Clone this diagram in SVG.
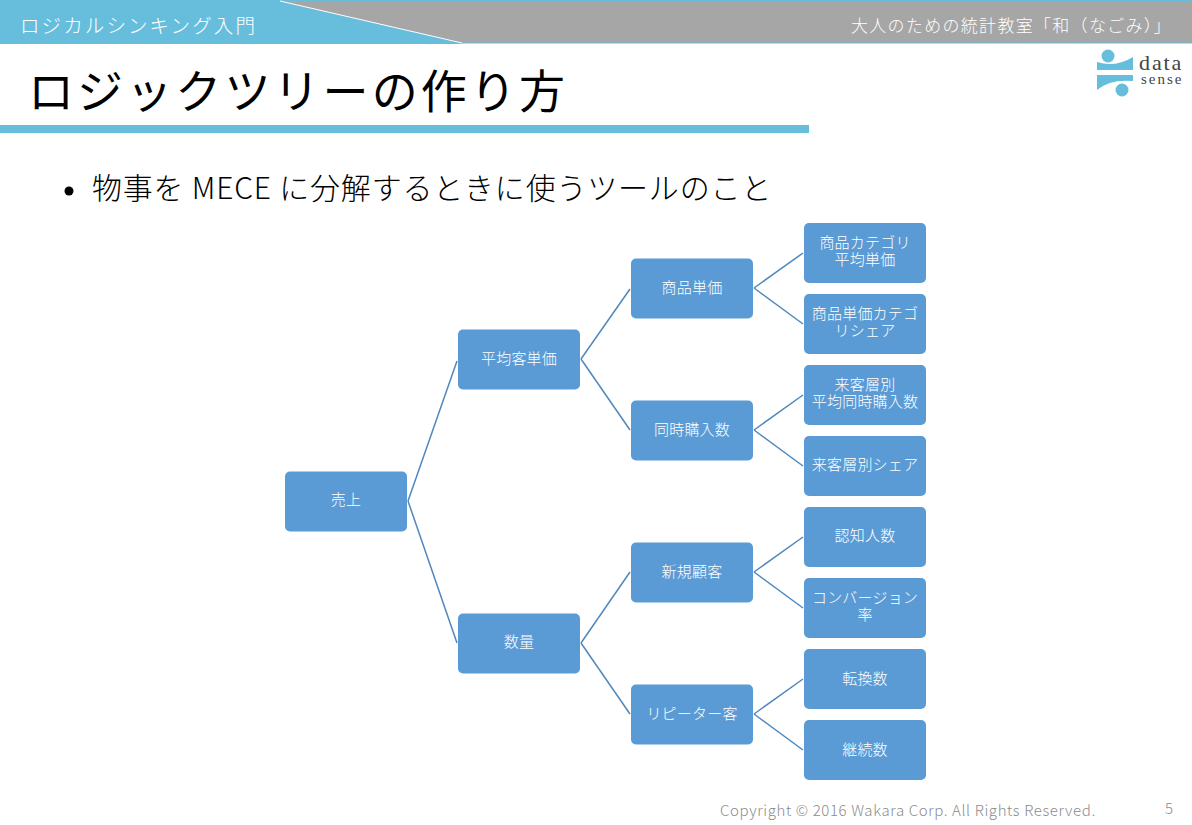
<svg xmlns="http://www.w3.org/2000/svg" width="1192" height="825" viewBox="0 0 1192 825">
<style>
text{font-family:"Noto Sans CJK JP","Noto Sans",sans-serif;font-weight:300}
.n rect{fill:#5b9bd5}
.n text{fill:#fff;font-size:15px;text-anchor:middle;letter-spacing:.2px}
#connectors path{fill:none;stroke:#4f88bd;stroke-width:1.5}
</style>
<rect width="1192" height="825" fill="#fff"/>
<g id="header">
<rect x="0" y="0" width="1192" height="44" fill="#66bedc"/>
<polygon points="281,2 1191,2 1191,42.500 462,42.500" fill="#a6a6a6"/>
<path d="M280,1 L462,43" stroke="#fff" stroke-width="1" fill="none"/>
<path d="M462,44 H1192" stroke="#fff" stroke-width="1" fill="none"/>
<text x="20" y="33" font-size="19.500px" fill="#fff" letter-spacing="2.100">ロジカルシンキング入門</text>
<text x="851" y="32" font-size="17px" fill="#fff" letter-spacing="1.300">大人のための統計教室「和（なごみ）」</text>
</g>
<g id="title">
<text x="28" y="108" font-size="46px" fill="#000" letter-spacing="3.100" style="font-weight:400">ロジックツリーの作り方</text>
<rect x="0" y="125" width="809" height="8" fill="#66bedc"/>
</g>
<g id="logo">
<circle cx="1108" cy="56" r="6.500" fill="#66bedc"/>
<path d="M1097,62 Q1115,68 1133,57 V70 H1097 Z" fill="#66bedc"/>
<path d="M1097,75 H1133 V81 Q1110,79 1097,90 Z" fill="#66bedc"/>
<circle cx="1122" cy="90" r="6.500" fill="#66bedc"/>
<text fill="#444" style="font-family:'Liberation Serif',serif;font-weight:400"><tspan x="1139" y="70" font-size="22px" letter-spacing="1.900">data</tspan><tspan x="1141" y="84" font-size="15px" letter-spacing="2">sense</tspan></text>
</g>
<g id="bullet">
<circle cx="69" cy="191" r="4.500" fill="#000"/>
<text x="92" y="199" font-size="30px" fill="#000" letter-spacing=".8">物事を MECE に分解するときに使うツールのこと</text>
</g>
<g id="connectors">
<path d="M408,501 L457,361"/><path d="M408,501 L457,643"/>
<path d="M581,359 L630,289"/><path d="M581,359 L630,430"/>
<path d="M581,643 L630,572"/><path d="M581,643 L630,714"/>
<path d="M754,288 L803,253"/><path d="M754,288 L803,324"/>
<path d="M754,430 L803,395"/><path d="M754,430 L803,466"/>
<path d="M754,572 L803,537"/><path d="M754,572 L803,608"/>
<path d="M754,714 L803,679"/><path d="M754,714 L803,750"/>
</g>
<g id="n1" class="n"><rect x="285" y="471.500" width="122" height="60" rx="5"/><text x="346" y="505">売上</text></g>
<g id="n2" class="n"><rect x="458" y="329.500" width="122" height="60" rx="5"/><text x="519" y="363.500">平均客単価</text></g>
<g id="n3" class="n"><rect x="458" y="613.500" width="122" height="60" rx="5"/><text x="519" y="647">数量</text></g>
<g id="n4" class="n"><rect x="631" y="258.500" width="122" height="60" rx="5"/><text x="692" y="292.500">商品単価</text></g>
<g id="n5" class="n"><rect x="631" y="400.500" width="122" height="60" rx="5"/><text x="692" y="434.500">同時購入数</text></g>
<g id="n6" class="n"><rect x="631" y="542.500" width="122" height="60" rx="5"/><text x="692" y="576.500">新規顧客</text></g>
<g id="n7" class="n"><rect x="631" y="684.500" width="122" height="60" rx="5"/><text x="692" y="718.500">リピーター客</text></g>
<g id="n8" class="n"><rect x="804" y="223" width="122" height="60" rx="5"/><text><tspan x="865" y="248">商品カテゴリ</tspan><tspan x="865" y="265">平均単価</tspan></text></g>
<g id="n9" class="n"><rect x="804" y="294" width="122" height="60" rx="5"/><text><tspan x="865" y="319">商品単価カテゴ</tspan><tspan x="865" y="336">リシェア</tspan></text></g>
<g id="n10" class="n"><rect x="804" y="365" width="122" height="60" rx="5"/><text><tspan x="865" y="390">来客層別</tspan><tspan x="865" y="407">平均同時購入数</tspan></text></g>
<g id="n11" class="n"><rect x="804" y="436" width="122" height="60" rx="5"/><text x="865" y="470">来客層別シェア</text></g>
<g id="n12" class="n"><rect x="804" y="507" width="122" height="60" rx="5"/><text x="865" y="541">認知人数</text></g>
<g id="n13" class="n"><rect x="804" y="578" width="122" height="60" rx="5"/><text><tspan x="865" y="603">コンバージョン</tspan><tspan x="865" y="620">率</tspan></text></g>
<g id="n14" class="n"><rect x="804" y="649" width="122" height="60" rx="5"/><text x="865" y="684">転換数</text></g>
<g id="n15" class="n"><rect x="804" y="720" width="122" height="60" rx="5"/><text x="865" y="755">継続数</text></g>
<g id="footer">
<text x="720" y="816" font-size="15px" fill="#8c8c8c" letter-spacing=".62">Copyright © 2016 Wakara Corp. All Rights Reserved.</text>
<text x="1165" y="814" font-size="15px" fill="#8c8c8c">5</text>
</g>
</svg>
